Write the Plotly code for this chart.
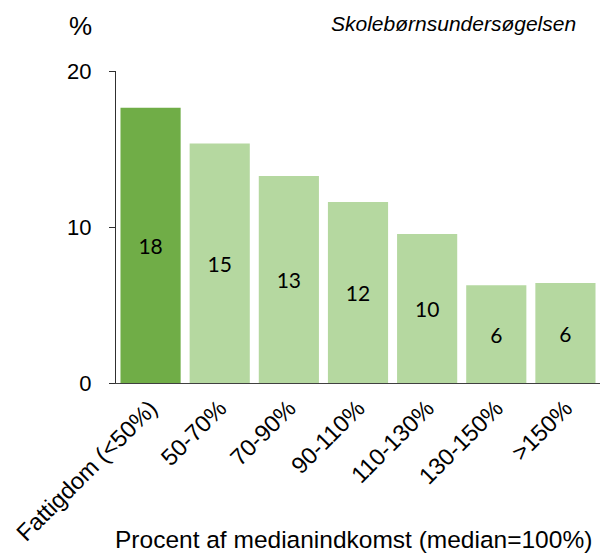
import plotly.graph_objects as go

# Income groups (percent of median income) and share of pupils in each group
categories = ["Fattigdom (<50%)", "50-70%", "70-90%", "90-110%", "110-130%", "130-150%", ">150%"]
values = [17.65, 15.35, 13.27, 11.6, 9.55, 6.26, 6.41]
y_ticks = [0, 10, 20]

dark_green = "#70AD47"
light_green = "#B5D8A0"
bar_colors = [dark_green] + [light_green] * (len(categories) - 1)

fig = go.Figure(
    go.Bar(
        x=categories,
        y=values,
        marker=dict(color=bar_colors, line=dict(width=0)),
        texttemplate="%{y:.0f}",
        textposition="inside",
        insidetextanchor="middle",
        textangle=0,
        textfont=dict(family="Lato, Carlito, sans-serif", size=21, color="#000000"),
        cliponaxis=False,
    )
)

sans = "Liberation Sans, Arial, sans-serif"
axis_font = dict(family=sans, size=22, color="#000000")

fig.update_layout(
    width=602,
    height=554,
    margin=dict(l=116, r=2, t=71, b=171, autoexpand=False),
    paper_bgcolor="white",
    plot_bgcolor="white",
    showlegend=False,
    bargap=0.13,
    xaxis=dict(
        type="category",
        showline=True,
        linecolor="#404040",
        linewidth=1.3,
        ticks="",
        tickangle=-45,
        tickfont=dict(family=sans, size=23.5, color="#000000"),
        showgrid=False,
        zeroline=False,
        automargin=False,
        ticklabelstandoff=1,
    ),
    yaxis=dict(
        range=[0, 20],
        tickvals=y_ticks,
        showline=True,
        linecolor="#303030",
        linewidth=1.3,
        ticks="outside",
        ticklen=6,
        tickwidth=1.3,
        tickcolor="#303030",
        tickfont=axis_font,
        showgrid=False,
        zeroline=False,
        automargin=False,
        ticklabelstandoff=13,
    ),
    annotations=[
        dict(
            text="%",
            xref="paper", yref="paper",
            x=-0.045, y=1.144,
            xanchor="right", yanchor="middle",
            showarrow=False,
            font=dict(family=sans, size=26, color="#000000"),
        ),
        dict(
            text="<i>Skolebørnsundersøgelsen</i>",
            xref="paper", yref="paper",
            x=0.954, y=1.153,
            xanchor="right", yanchor="middle",
            showarrow=False,
            font=dict(family=sans, size=21, color="#000000"),
        ),
        dict(
            text="Procent af medianindkomst (median=100%)",
            xref="paper", yref="paper",
            x=0.49, y=-0.503,
            xanchor="center", yanchor="middle",
            showarrow=False,
            font=dict(family=sans, size=24.5, color="#000000"),
        ),
    ],
)

fig.write_html("out.html")
